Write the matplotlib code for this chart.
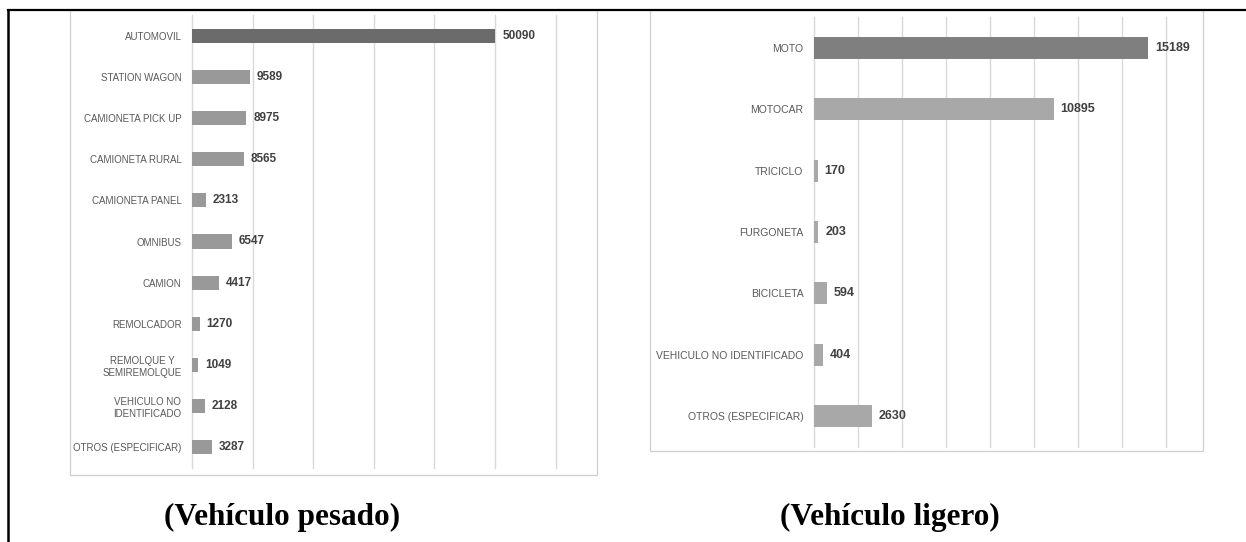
import matplotlib.pyplot as plt
from matplotlib.patches import Rectangle
from matplotlib.lines import Line2D

W, H = 1246, 542

# left panel: heavy vehicles
pesado_cats = [
    "AUTOMOVIL",
    "STATION WAGON",
    "CAMIONETA PICK UP",
    "CAMIONETA RURAL",
    "CAMIONETA PANEL",
    "OMNIBUS",
    "CAMION",
    "REMOLCADOR",
    "REMOLQUE Y\nSEMIREMOLQUE",
    "VEHICULO NO\nIDENTIFICADO",
    "OTROS (ESPECIFICAR)",
]
pesado_vals = [50090, 9589, 8975, 8565, 2313, 6547, 4417, 1270, 1049, 2128, 3287]
pesado_ticks = [0, 10000, 20000, 30000, 40000, 50000, 60000]

# right panel: light vehicles
ligero_cats = [
    "MOTO",
    "MOTOCAR",
    "TRICICLO",
    "FURGONETA",
    "BICICLETA",
    "VEHICULO NO IDENTIFICADO",
    "OTROS (ESPECIFICAR)",
]
ligero_vals = [15189, 10895, 170, 203, 594, 404, 2630]
ligero_ticks = [0, 2000, 4000, 6000, 8000, 10000, 12000, 14000, 16000]

SANS = ["Liberation Sans Narrow", "Liberation Sans", "DejaVu Sans"]
GRID = "#d9d9d9"


def px_axes(fig, left, top, right, bottom):
    # pixel box (from top-left) -> figure fraction
    return fig.add_axes([left / W, (H - bottom) / H, (right - left) / W, (bottom - top) / H])


def draw_panel(ax, cats, vals, ticks, colors, bar_h, cat_size, val_size):
    ypos = list(range(len(cats)))
    bars = ax.barh(ypos, vals, height=bar_h, color=colors, zorder=3)
    ax.set_xlim(ticks[0], ticks[-1])
    ax.set_ylim(len(cats) - 0.5, -0.5)
    ax.set_xticks(ticks)
    ax.set_xticklabels([])
    ax.set_yticks(ypos)
    ax.set_yticklabels(cats, family=SANS, fontsize=cat_size, color="#595959",
                       multialignment="center")
    ax.tick_params(axis="both", length=0, pad=7.5)
    ax.grid(axis="x", color=GRID, linewidth=1.0, zorder=0)
    for gl in ax.xaxis.get_gridlines():
        gl.set_clip_on(False)
    for s in ax.spines.values():
        s.set_visible(False)
    ax.bar_label(bars, labels=[str(v) for v in vals], padding=5, family=SANS,
                 fontsize=val_size, fontweight="bold", color="#404040")


fig = plt.figure(figsize=(W / 100, H / 100), dpi=100)

# chart frames
fig.patches.append(Rectangle((70 / W, (H - 475) / H), 527 / W, 465 / H, fill=False,
                             edgecolor="#cfcfcf", linewidth=0.9, transform=fig.transFigure))
fig.patches.append(Rectangle((650 / W, (H - 451) / H), 553 / W, 441 / H, fill=False,
                             edgecolor="#cfcfcf", linewidth=0.9, transform=fig.transFigure))

ax1 = px_axes(fig, 192, 15, 555.5, 468)
draw_panel(ax1, pesado_cats, pesado_vals, pesado_ticks,
           ["#6b6b6b"] + ["#999999"] * (len(pesado_cats) - 1), 0.34, 7, 8.5)

ax2 = px_axes(fig, 814, 17, 1166, 447)
draw_panel(ax2, ligero_cats, ligero_vals, ligero_ticks,
           ["#7f7f7f"] + ["#a8a8a8"] * (len(ligero_cats) - 1), 0.36, 7.5, 9)

# table borders
fig.add_artist(Line2D([8 / W, 1], [(H - 10) / H] * 2, color="black", linewidth=1.6,
                      transform=fig.transFigure))
fig.add_artist(Line2D([8 / W] * 2, [0, (H - 10) / H], color="black", linewidth=1.8,
                      transform=fig.transFigure))

# captions
fig.text(282 / W, 17 / H, "(Vehículo pesado)", family="Liberation Serif",
         fontweight="bold", fontsize=22.5, ha="center", va="baseline")
fig.text(890 / W, 17 / H, "(Vehículo ligero)", family="Liberation Serif",
         fontweight="bold", fontsize=22.5, ha="center", va="baseline")

fig.savefig("out.png", dpi=100)
